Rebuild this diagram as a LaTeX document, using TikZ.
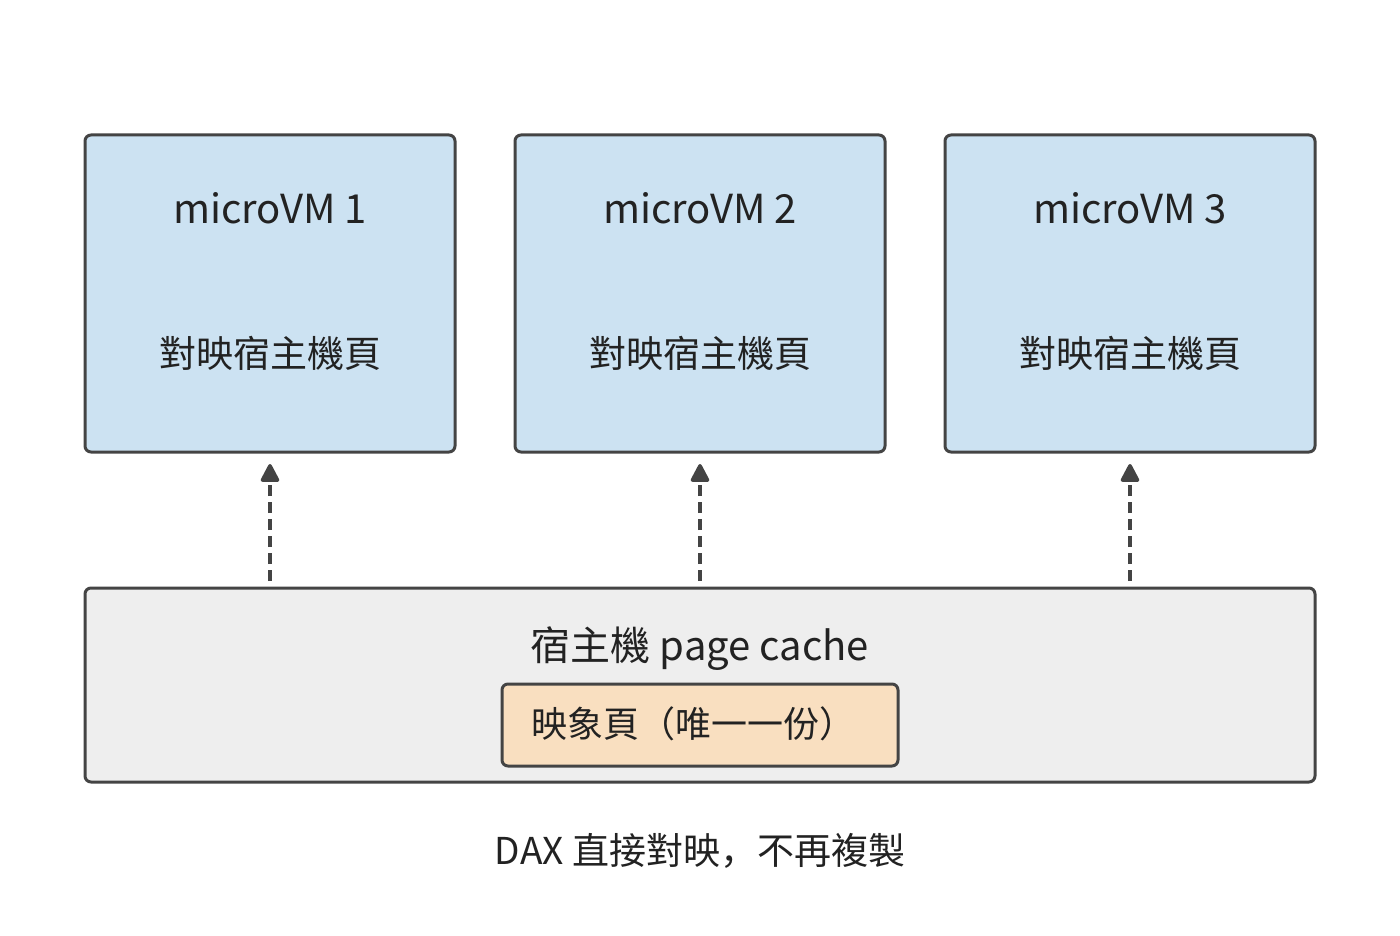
\documentclass[tikz,border=0pt]{standalone}
\usepackage{fontspec}
\setmainfont{Noto Sans CJK SC}
\usetikzlibrary{arrows.meta}
\definecolor{vmfill}{RGB}{204,226,242}
\definecolor{hostfill}{RGB}{238,238,238}
\definecolor{pagefill}{RGB}{249,223,192}
\definecolor{edge}{RGB}{68,68,68}
\definecolor{txt}{RGB}{34,34,34}
\tikzset{
  vmbox/.style={draw=edge, line width=3pt, fill=vmfill, rounded corners=6pt},
  hostbox/.style={draw=edge, line width=3pt, fill=hostfill, rounded corners=6pt},
  pagebox/.style={draw=edge, line width=3pt, fill=pagefill, rounded corners=6pt},
  lbl/.style={text=txt, inner sep=0pt, anchor=center},
  maparrow/.style={draw=edge, line width=3.5pt, dash pattern=on 11pt off 6pt, -{Triangle[length=20pt,width=20pt, round]}},
}
\begin{document}
\begin{tikzpicture}[x=1pt,y=-1pt]
\useasboundingbox[fill=white] (0,0) rectangle (1400,936);
% VM boxes
\foreach \i/\x in {1/85,2/515,3/945}{
  \path[vmbox] (\x,135) rectangle ++(370,317);
  \node[lbl, font=\fontsize{40}{48}\selectfont] (vmt\i) at (\x+185,208) {microVM \i};
  \node[lbl, font=\fontsize{37}{44}\selectfont] (vmp\i) at (\x+185,353) {對映宿主機頁};
  \coordinate (top\i) at (\x+185,464);
  \coordinate (bot\i) at (\x+185,581);
}
% host box
\node[hostbox, minimum width=1230pt, minimum height=194pt, inner sep=0pt] (host) at (700,685) {};
\node[lbl, font=\fontsize{40}{48}\selectfont] (hosttitle) at (700,649) {宿主機 page cache};
\node[pagebox, minimum width=396pt, minimum height=82pt, inner sep=0pt] (page) at (700,725) {};
\node[lbl, font=\fontsize{36}{44}\selectfont] (pagetxt) at (693,724) {映象頁（唯一一份）};
% arrows
\foreach \i in {1,2,3}{
  \draw[maparrow] (bot\i) -- (top\i);
}
\node[lbl, font=\fontsize{37}{44}\selectfont] (caption) at (700,851) {DAX 直接對映，不再複製};
\end{tikzpicture}
\end{document}
